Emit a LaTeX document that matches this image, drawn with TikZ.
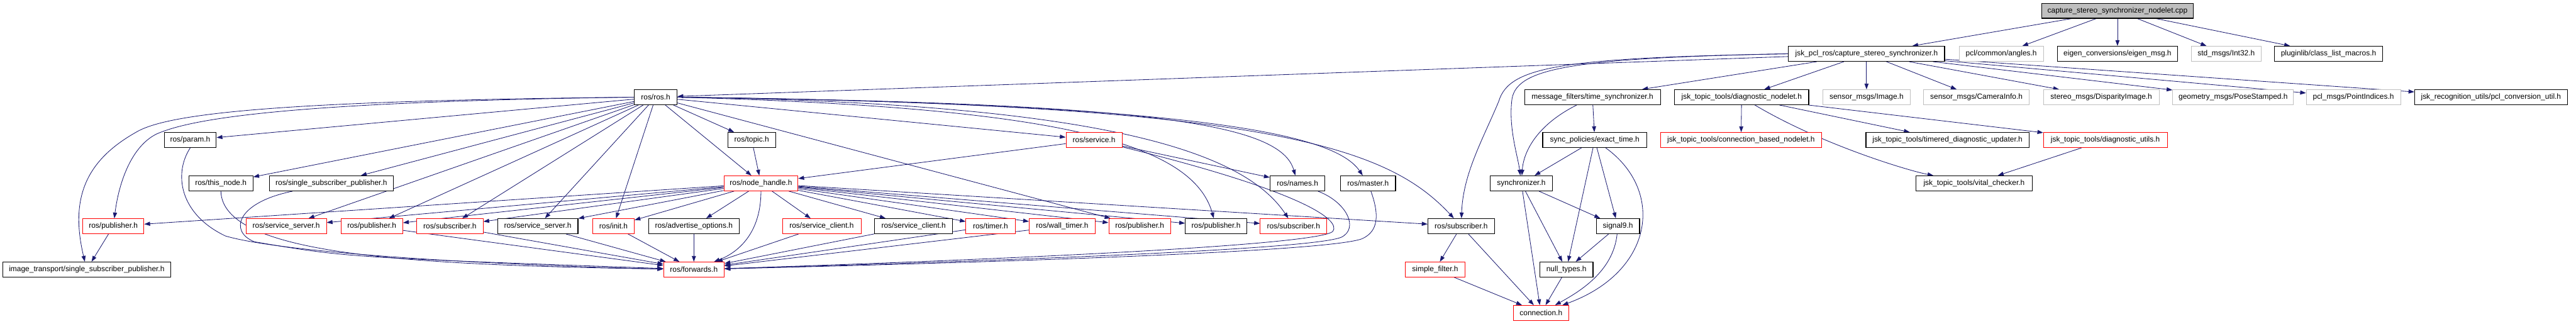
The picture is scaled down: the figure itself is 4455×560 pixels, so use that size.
\documentclass[tikz,border=0pt]{standalone}
\usepackage{fontspec}
\setmainfont{Liberation Sans}
\usetikzlibrary{arrows.meta,backgrounds}
\definecolor{edgeblue}{HTML}{191970}
\definecolor{boxgray}{HTML}{BFBFBF}
\tikzset{
  hdr/.style={draw=black, line width=1.2pt, fill=white, minimum height=26pt, inner sep=2pt,
    font=\fontsize{13}{15}\selectfont},
  trunc/.style={hdr, draw=red, line width=1pt},
  sys/.style={hdr, draw=boxgray, line width=1pt},
  root/.style={hdr, fill=boxgray},
  dep/.style={edgeblue, line width=0.9pt, -{Triangle[length=10pt,width=7pt]}}
}
\begin{document}
\begin{tikzpicture}[x=1pt,y=-1pt]
\useasboundingbox (0,0) rectangle (4455,560);

% ROW 1
\node[root, minimum width=262] (cpp) at (3662,18.5) {capture\_stereo\_synchronizer\_nodelet.cpp};

% ROW 2
\node[hdr, minimum width=270] (csync) at (3228,93) {jsk\_pcl\_ros/capture\_stereo\_synchronizer.h};
\node[sys, minimum width=146] (angles) at (3461,93) {pcl/common/angles.h};
\node[hdr, minimum width=207] (eigen) at (3662,93) {eigen\_conversions/eigen\_msg.h};
\node[sys, minimum width=121] (int32) at (3850,93) {std\_msgs/Int32.h};
\node[hdr, minimum width=187] (plugin) at (4027,93) {pluginlib/class\_list\_macros.h};

% ROW 3
\node[hdr, minimum width=74] (rosh) at (1134,168) {ros/ros.h};
\node[hdr, minimum width=235] (timesync) at (2754,168) {message\_filters/time\_synchronizer.h};
\node[hdr, minimum width=232] (diagnode) at (3012,168) {jsk\_topic\_tools/diagnostic\_nodelet.h};
\node[sys, minimum width=151] (image) at (3228,168) {sensor\_msgs/Image.h};
\node[sys, minimum width=183] (caminfo) at (3418,168) {sensor\_msgs/CameraInfo.h};
\node[sys, minimum width=200] (disparity) at (3634,168) {stereo\_msgs/DisparityImage.h};
\node[sys, minimum width=209] (pose) at (3862,168) {geometry\_msgs/PoseStamped.h};
\node[sys, minimum width=163] (indices) at (4070,168) {pcl\_msgs/PointIndices.h};
\node[hdr, minimum width=264] (pclconv) at (4308,168) {jsk\_recognition\_utils/pcl\_conversion\_util.h};

% ROW 4
\node[hdr, minimum width=90] (param) at (329,242) {ros/param.h};
\node[hdr, minimum width=83] (topic) at (1300,242) {ros/topic.h};
\node[trunc, minimum width=97] (service) at (1892,242) {ros/service.h};
\node[hdr, minimum width=180] (exacttime) at (2758,242) {sync\_policies/exact\_time.h};
\node[trunc, minimum width=279] (connbased) at (3011,242) {jsk\_topic\_tools/connection\_based\_nodelet.h};
\node[hdr, minimum width=282] (timered) at (3368,242) {jsk\_topic\_tools/timered\_diagnostic\_updater.h};
\node[trunc, minimum width=214] (diagutils) at (3641,242) {jsk\_topic\_tools/diagnostic\_utils.h};

% ROW 5
\node[hdr, minimum width=111] (thisnode) at (382,317) {ros/this\_node.h};
\node[hdr, minimum width=214] (singlepub) at (573,317) {ros/single\_subscriber\_publisher.h};
\node[trunc, minimum width=128] (nodehandle) at (1316,317) {ros/node\_handle.h};
\node[hdr, minimum width=95] (names) at (2244,317) {ros/names.h};
\node[hdr, minimum width=95] (master) at (2366,317) {ros/master.h};
\node[hdr, minimum width=107] (synchronizer) at (2631,317) {synchronizer.h};
\node[hdr, minimum width=201] (vital) at (3414,317) {jsk\_topic\_tools/vital\_checker.h};

% ROW 6
\node[trunc, minimum width=106] (pubA) at (196,391) {ros/publisher.h};
\node[trunc, minimum width=139] (srvA) at (495,391) {ros/service\_server.h};
\node[trunc, minimum width=107] (pubB) at (643,391) {ros/publisher.h};
\node[trunc, minimum width=115] (subA) at (778,391) {ros/subscriber.h};
\node[hdr, minimum width=139] (srvB) at (930,391) {ros/service\_server.h};
\node[trunc, minimum width=72] (init) at (1061,391) {ros/init.h};
\node[hdr, minimum width=157] (advopt) at (1200,391) {ros/advertise\_options.h};
\node[trunc, minimum width=136] (cliA) at (1421,391) {ros/service\_client.h};
\node[hdr, minimum width=135] (cliB) at (1580,391) {ros/service\_client.h};
\node[trunc, minimum width=85] (timer) at (1713,391) {ros/timer.h};
\node[trunc, minimum width=114] (walltimer) at (1837,391) {ros/wall\_timer.h};
\node[trunc, minimum width=107] (pubC) at (1971,391) {ros/publisher.h};
\node[hdr, minimum width=106] (pubD) at (2103,391) {ros/publisher.h};
\node[trunc, minimum width=115] (subB) at (2237,391) {ros/subscriber.h};
\node[hdr, minimum width=115] (subC) at (2527,391) {ros/subscriber.h};
\node[hdr, minimum width=75] (signal) at (2798,391) {signal9.h};

% ROW 7
\node[hdr, minimum width=291] (itssp) at (150,466) {image\_transport/single\_subscriber\_publisher.h};
\node[trunc, minimum width=105] (forwards) at (1200,466) {ros/forwards.h};
\node[trunc, minimum width=103] (simplefilter) at (2482,466) {simple\_filter.h};
\node[hdr, minimum width=92] (nulltypes) at (2709,466) {null\_types.h};

% ROW 8
\node[trunc, minimum width=96] (connection) at (2665,541) {connection.h};

\begin{pgfonlayer}{background}
% ARROWS: nodelet
\draw[dep] (cpp) -- (csync);
\draw[dep] (cpp) -- (angles);
\draw[dep] (cpp) -- (eigen);
\draw[dep] (cpp) -- (int32);
\draw[dep] (cpp) -- (plugin);

% ARROWS: capture_stereo_synchronizer.h
\draw[dep] (csync) -- (rosh);
\draw[dep] (csync) -- (timesync);
\draw[dep] (csync.west) .. controls (2720,100) and (2625,118) .. (2615,170)
  .. controls (2608,220) and (2625,270) .. (synchronizer);
\draw[dep] (csync.west) .. controls (2700,100) and (2610,115) .. (2592,175)
  .. controls (2565,240) and (2530,300) .. (subC);
\draw[dep] (csync) -- (diagnode);
\draw[dep] (csync) -- (image);
\draw[dep] (csync) -- (caminfo);
\draw[dep] (csync) -- (disparity);
\draw[dep] (csync) -- (pose);
\draw[dep] (csync) -- (indices);
\draw[dep] (csync) -- (pclconv);

% ARROWS: ros.h
\draw[dep] (rosh) -- (param);
\draw[dep] (rosh) -- (thisnode);
\draw[dep] (rosh) -- (singlepub);
\draw[dep] (rosh.west) .. controls (500,176) and (330,205) .. (270,232)
  .. controls (225,255) and (205,320) .. (pubA);
\draw[dep] (rosh.west) .. controls (500,174) and (300,195) .. (240,226)
  .. controls (150,275) and (120,340) .. (itssp);
\draw[dep] (rosh) -- (srvA);
\draw[dep] (rosh) -- (pubB);
\draw[dep] (rosh) -- (subA);
\draw[dep] (rosh) -- (srvB);
\draw[dep] (rosh) -- (init);
\draw[dep] (rosh) -- (nodehandle);
\draw[dep] (rosh) -- (topic);
\draw[dep] (rosh) -- (service);
\draw[dep] (rosh) -- (pubC);
\draw[dep] (rosh.east) .. controls (1800,185) and (2060,240) .. (pubD);
\draw[dep] (rosh.east) .. controls (1900,178) and (2150,260) .. (subB);
\draw[dep] (rosh.east) .. controls (2000,178) and (2215,215) .. (names);
\draw[dep] (rosh.east) .. controls (2100,180) and (2310,235) .. (master);
\draw[dep] (rosh.east) .. controls (2200,180) and (2400,255) .. (subC);

\draw[dep] (topic) -- (nodehandle);
\draw[dep] (service) -- (nodehandle);
\draw[dep] (service) -- (names);

% ARROWS: node_handle.h
\draw[dep] (nodehandle) -- (pubA);
\draw[dep] (nodehandle) -- (srvA);
\draw[dep] (nodehandle) -- (pubB);
\draw[dep] (nodehandle) -- (subA);
\draw[dep] (nodehandle) -- (srvB);
\draw[dep] (nodehandle) -- (init);
\draw[dep] (nodehandle) -- (advopt);
\draw[dep] (nodehandle) -- (cliA);
\draw[dep] (nodehandle) -- (cliB);
\draw[dep] (nodehandle) -- (timer);
\draw[dep] (nodehandle) -- (walltimer);
\draw[dep] (nodehandle) -- (pubC);
\draw[dep] (nodehandle) -- (pubD);
\draw[dep] (nodehandle) -- (subB);
\draw[dep] (nodehandle) -- (subC);
\draw[dep] (pubA) -- (itssp);

% ARROWS: into forwards.h
\draw[dep] (param.south) .. controls (300,300) and (310,370) .. (390,408)
  .. controls (500,440) and (900,460) .. (forwards);
\draw[dep] (thisnode.south) .. controls (385,440) and (700,458) .. (forwards);
\draw[dep] (singlepub) .. controls (410,350) and (395,400) .. (440,418)
  .. controls (600,445) .. (forwards);
\draw[dep] (pubB) -- (forwards);
\draw[dep] (subA) -- (forwards);
\draw[dep] (srvB) -- (forwards);
\draw[dep] (init) -- (forwards);
\draw[dep] (advopt) -- (forwards);
\draw[dep] (nodehandle) .. controls (1316,400) and (1280,435) .. (forwards);
\draw[dep] (cliA) -- (forwards);
\draw[dep] (cliB) -- (forwards);
\draw[dep] (timer) -- (forwards);
\draw[dep] (walltimer) -- (forwards);
\draw[dep] (service) .. controls (2250,330) and (2320,380) .. (2305,400)
  .. controls (2280,425) and (1700,450) .. (forwards);
\draw[dep] (names) .. controls (2330,350) and (2350,395) .. (2320,410)
  .. controls (2270,432) and (1700,452) .. (forwards);
\draw[dep] (master) .. controls (2385,370) and (2385,400) .. (2355,413)
  .. controls (2290,436) and (1700,454) .. (forwards);

% ARROWS: message_filters
\draw[dep] (timesync) -- (exacttime);
\draw[dep] (timesync) .. controls (2660,215) and (2635,260) .. (synchronizer);
\draw[dep] (exacttime) -- (synchronizer);
\draw[dep] (exacttime) -- (nulltypes);
\draw[dep] (exacttime) -- (signal);
\draw[dep] (exacttime) .. controls (2880,330) and (2860,470) .. (connection);
\draw[dep] (synchronizer) -- (connection);
\draw[dep] (synchronizer) -- (nulltypes);
\draw[dep] (synchronizer) -- (signal);
\draw[dep] (signal) -- (nulltypes);
\draw[dep] (signal) .. controls (2790,470) and (2730,505) .. (connection);
\draw[dep] (nulltypes) -- (connection);
\draw[dep] (subC) -- (simplefilter);
\draw[dep] (subC) -- (connection);
\draw[dep] (simplefilter) -- (connection);

% ARROWS: jsk_topic_tools
\draw[dep] (diagnode) -- (connbased);
\draw[dep] (diagnode) -- (timered);
\draw[dep] (diagnode) -- (diagutils);
\draw[dep] (diagnode) .. controls (3150,250) and (3300,295) .. (vital);
\draw[dep] (diagutils) -- (vital);
\end{pgfonlayer}

\end{tikzpicture}
\end{document}
